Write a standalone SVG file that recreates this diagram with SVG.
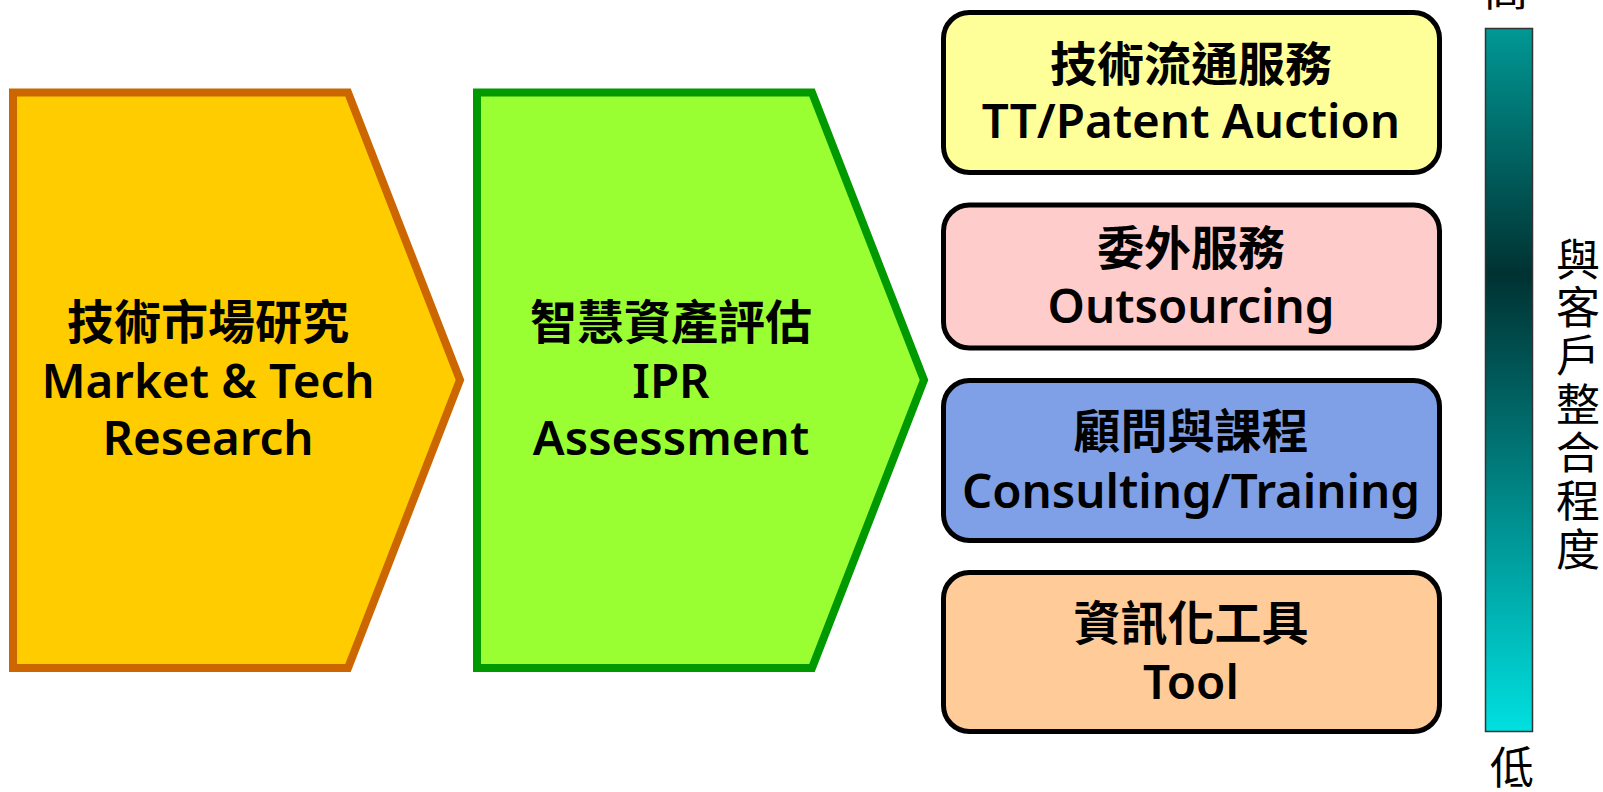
<svg xmlns="http://www.w3.org/2000/svg" width="1603" height="792" viewBox="0 0 1603 792">
  <defs>
    <linearGradient id="barGrad" x1="0" y1="0" x2="0" y2="1">
      <stop offset="0" stop-color="#009895"/>
      <stop offset="0.35" stop-color="#003232"/>
      <stop offset="1" stop-color="#00E0E0"/>
    </linearGradient>
  </defs>
  <style>
    .cjk { font-family: "Noto Sans CJK TC", "Noto Sans CJK SC", sans-serif; font-weight: bold; font-size: 47px; fill: #000; text-anchor: middle; }
    .lat { font-family: "Noto Sans", "Open Sans", sans-serif; font-weight: 600; font-size: 47.5px; fill: #000; text-anchor: middle; }
    .side { font-family: "Noto Sans CJK TC", "Noto Sans CJK SC", sans-serif; font-weight: normal; font-size: 44px; fill: #000; text-anchor: middle; }
    .vert { font-family: "Noto Sans CJK TC", "Noto Sans CJK SC", sans-serif; font-weight: normal; font-size: 44px; fill: #000; writing-mode: vertical-rl; letter-spacing: 4.3px; }
    .box { stroke: #000; stroke-width: 5; }
  </style>

  <g id="connectors"></g>

  <g id="market-research">
    <polygon points="13,92.5 348,92.5 460,380 348,668 13,668" fill="#FFCC00" stroke="#CC6600" stroke-width="8"/>
    <text class="cjk" x="208" y="339">技術市場研究</text>
    <text class="lat" x="208" y="398">Market &amp; Tech</text>
    <text class="lat" x="208" y="455">Research</text>
  </g>

  <g id="ipr-assessment">
    <polygon points="477,92.5 812,92.5 924,380 812,668 477,668" fill="#99FF33" stroke="#009900" stroke-width="8"/>
    <text class="cjk" x="671" y="339">智慧資產評估</text>
    <text class="lat" x="671" y="398">IPR</text>
    <text class="lat" x="671" y="455">Assessment</text>
  </g>

  <g id="tt-auction">
    <rect class="box" x="943.5" y="12.5" width="496" height="160" rx="26" fill="#FFFF99"/>
    <text class="cjk" x="1191" y="81">技術流通服務</text>
    <text class="lat" x="1191" y="138">TT/Patent Auction</text>
  </g>

  <g id="outsourcing">
    <rect class="box" x="943.5" y="205" width="496" height="143" rx="26" fill="#FFCCCC"/>
    <text class="cjk" x="1191" y="265">委外服務</text>
    <text class="lat" x="1191" y="323">Outsourcing</text>
  </g>

  <g id="consulting">
    <rect class="box" x="943.5" y="380.5" width="496" height="160" rx="26" fill="#7F9FE6"/>
    <text class="cjk" x="1191" y="448">顧問與課程</text>
    <text class="lat" x="1191" y="508">Consulting/Training</text>
  </g>

  <g id="tool">
    <rect class="box" x="943.5" y="572.5" width="496" height="159" rx="26" fill="#FFCC99"/>
    <text class="cjk" x="1191" y="640">資訊化工具</text>
    <text class="lat" x="1191" y="699">Tool</text>
  </g>

  <g id="integration-scale">
    <rect x="1485.5" y="28.5" width="47" height="703" fill="url(#barGrad)" stroke="#333" stroke-width="1.5"/>
    <text class="side" x="1506" y="6">高</text>
    <text class="side" x="1512" y="784">低</text>
    <text class="vert" x="1578" y="237">與客戶整合程度</text>
  </g>
</svg>
